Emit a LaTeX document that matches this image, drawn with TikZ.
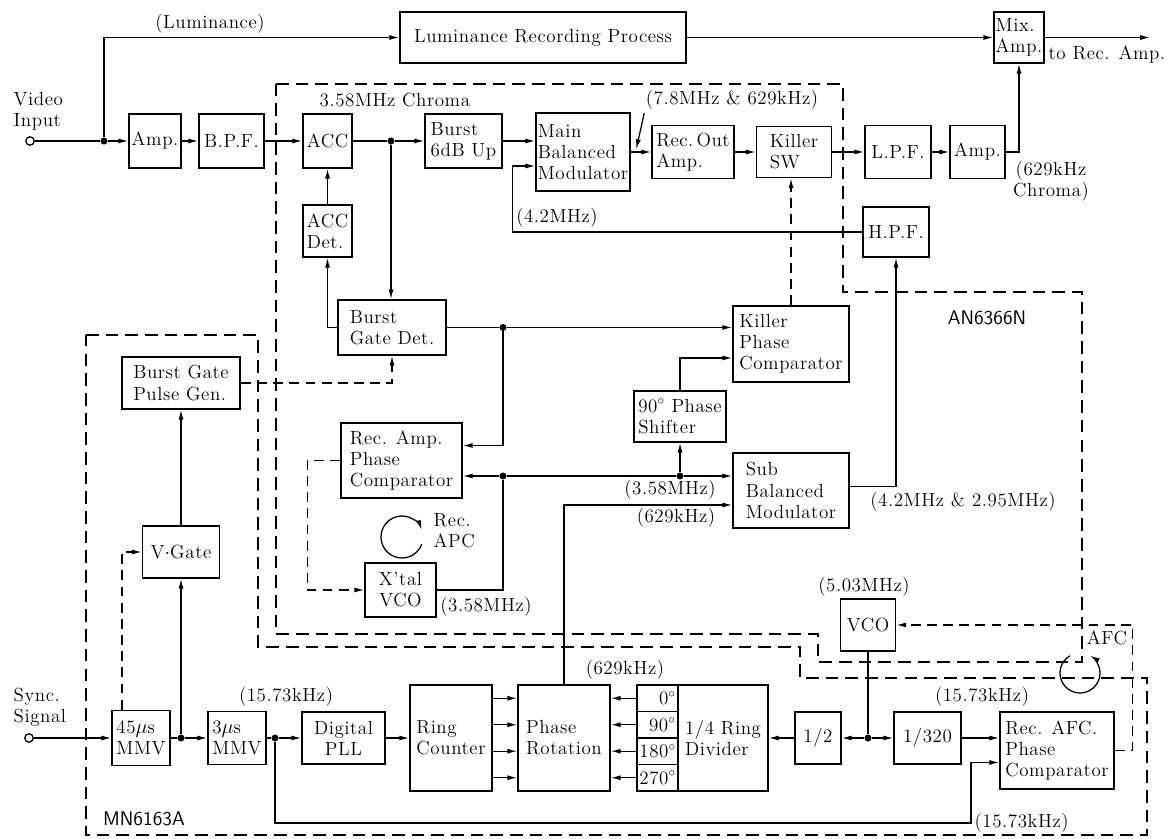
\documentclass[tikz,border=0pt]{standalone}
\usepackage{fontspec}
\setmainfont{Latin Modern Roman}[LetterSpace=3]
\usepackage{tikz}
\usetikzlibrary{calc,arrows.meta}
\tikzset{
	blk/.style={draw, line width=1.2pt, align=left, inner sep=1pt},
	sz/.style 2 args={minimum width=#1*0.025cm, minimum height=#2*0.025cm},
	dot/.style={circle, fill, inner sep=0pt, minimum size=5pt},
	term/.style={circle, draw, line width=0.9pt, fill=white, inner sep=0pt, minimum size=6pt},
	wire/.style={line width=0.9pt},
	flow/.style={line width=0.9pt, -{Latex[length=7pt,width=3.6pt]}},
	ctl/.style={line width=0.9pt, dash pattern=on 7pt off 4.5pt, -{Latex[length=7pt,width=3.6pt]}},
	chip/.style={line width=1.1pt, dash pattern=on 9pt off 5pt},
	lbl/.style={inner sep=1pt, align=left},
}

\begin{document}
\begin{tikzpicture}[x=0.025cm, y=-0.025cm, font=\fontsize{13.5}{15}\selectfont]
		%%%%% START %%%%%
		\useasboundingbox (0,0) rectangle (1167,839);
		
		% IC outlines
		\draw[chip] (276,84) -- (843,84) -- (843,292) -- (1082,292) -- (1082,662) -- (818,662) -- (818,634) -- (276,634) -- cycle;
		\draw[chip] (86,335) -- (258,335) -- (258,647) -- (800,647) -- (800,678) -- (1147,678) -- (1147,835) -- (86,835) -- cycle;
		\node[lbl, font=\fontsize{14}{16}\sffamily] (tAN) at (987,318) {AN6366N};
		\node[lbl, font=\fontsize{14}{16}\sffamily] (tMN) at (144,819) {MN6163A};
		
		% chroma path
		\node[term] (vin) at (30,141) {};
		\node[dot] (j1) at (104,141) {};
		\node[blk,sz={52}{54}] (amp1) at (155,141) {Amp.};
		\node[blk,sz={65}{54}] (bpf) at (231.5,141) {B.P.F.};
		\node[blk,sz={49}{54}] (acc) at (327.5,141) {ACC};
		\node[dot] (j2) at (391,141) {};
		\node[blk,sz={49}{52}] (accdet) at (327.5,231) {ACC\\Det.};
		\node[blk,sz={77}{54}] (burst) at (463.5,141) {Burst\\6dB Up};
		\node[blk,sz={94}{78}] (mbm) at (583,152) {Main\\Balanced\\Modulator};
		\node[blk,sz={82}{53}] (recout) at (693,152) {Rec.\,Out\\Amp.};
		\node[blk,sz={75}{51}] (killsw) at (794,152) {Killer\\SW};
		\node[blk,sz={66}{53}] (lpf) at (898,152) {L.P.F.};
		\node[blk,sz={55}{53}] (amp2) at (977.5,152) {Amp.};
		\node[blk,sz={66}{50}] (hpf) at (896,232) {H.P.F.};
		\node[blk,sz={286}{51}] (lrp) at (543,37.5) {Luminance Recording Process};
		\node[blk,sz={50}{51}] (mix) at (1019,37.5) {Mix.\\Amp.};
		\coordinate (out) at (1150,37.5);
		
		\node[blk,sz={108}{55}] (bgd) at (392,327.5) {Burst\\Gate Det.};
		\node[dot] (j3) at (503,327.5) {};
		\node[blk,sz={116}{76}] (kpc) at (791,344) {Killer\\Phase\\Comparator};
		\node[blk,sz={92}{51}] (ps90) at (680,416.5) {90$^\circ$ Phase\\Shifter};
		\node[blk,sz={121}{75}] (rapc) at (401.5,460.5) {Rec. Amp.\\Phase\\Comparator};
		\node[dot] (j4) at (503,476) {};
		\node[dot] (j5) at (680,476) {};
		\node[blk,sz={116}{75}] (sbm) at (791,490.5) {Sub\\Balanced\\Modulator};
		\node[blk,sz={71}{54},align=center] (xvco) at (400.5,590) {X'tal\\VCO};
		\coordinate (apc) at (402,537);
		
		% sync path
		\node[blk,sz={118}{52}] (bgpg) at (181,383) {Burst Gate\\Pulse Gen.};
		\node[blk,sz={77}{52}] (vgate) at (181,552) {V$\cdot$Gate};
		\node[term] (sync) at (29,738) {};
		\node[blk,sz={58}{55}] (mmv45) at (141,738) {45$\mu$s\\MMV};
		\node[dot] (j6) at (181,738) {};
		\node[blk,sz={58}{53}] (mmv3) at (237,738) {3$\mu$s\\MMV};
		\node[dot] (j7) at (275,738) {};
		\node[blk,sz={83}{52},align=center] (dpll) at (343.5,738) {Digital\\PLL};
		\node[blk,sz={82}{106}] (ring) at (451,738) {Ring\\Counter};
		\node[blk,sz={92}{106}] (phrot) at (564,738) {Phase\\Rotation};
		\foreach \a/\yy in {0/698.25, 90/724.75, 180/751.25, 270/777.75}
			\node[blk,sz={41}{26.5},text width=0.9cm,align=right,inner sep=1pt] (d\a) at (657.5,\yy) {\a$^\circ$};
		\node[blk,sz={90}{106}] (ringdiv) at (723,738) {1/4 Ring\\Divider};
		\node[blk,sz={46}{52}] (half) at (818,738) {1/2};
		\node[dot] (j8) at (868,738) {};
		\node[blk,sz={67}{52}] (div320) at (927.5,738) {1/320};
		\node[blk,sz={114}{77}] (rafc) at (1057,750.5) {Rec. AFC.\\Phase\\Comparator};
		\node[blk,sz={55}{52}] (vco) at (868,625) {VCO};
		\coordinate (k1) at (971,823);
		\coordinate (afc) at (1080,673);
		
		% connections, chroma
		\draw[wire] (vin) -- (j1);
		\draw[flow] (j1) -- (amp1);
		\draw[flow] (j1) |- (lrp);
		\draw[flow] (amp1) -- (bpf);
		\draw[flow] (bpf) -- (acc);
		\draw[wire] (acc) -- (j2);
		\draw[flow] (j2) -- (burst);
		\draw[flow] (j2) -- (j2 |- bgd.north);
		\draw[flow] (accdet) -- (acc);
		\draw[flow] (bgd.west) -| (accdet.south);
		\draw[flow] (burst.east) -- (burst.east -| mbm.west);
		\draw[flow] (mbm) -- (recout);
		\draw[flow] (recout) -- (killsw);
		\draw[flow] (killsw) -- (lpf);
		\draw[flow] (lpf) -- (amp2);
		\draw[flow] (amp2.east) -| (mix.south);
		\draw[flow] (lrp) -- (mix);
		\draw[flow] (mix.east) -- (out);
		\draw[flow] (hpf.west) -- ++(-350,0) |- ($(mbm.west)+(0,14)$);
		\draw[ctl] (kpc.north) -- (kpc.north |- killsw.south);
		
		\draw[wire] (bgd.east) -- (j3);
		\draw[flow] (j3) -- (j3 -| kpc.west);
		\draw[flow] (j3) |- ($(rapc.east)+(0,-15)$);
		\draw[flow] (ps90.north) |- ($(kpc.west)+(0,14)$);
		\draw[flow] (j4) -- (j4 -| rapc.east);
		\draw[wire] (j4) -- (j5);
		\draw[flow] (j5) -- (j5 -| sbm.west);
		\draw[flow] (j5) -- (ps90.south);
		\draw[wire] (xvco.east) -| (j4);
		\draw[flow] (phrot.north) |- ($(sbm.west)+(0,14.5)$);
		\draw[flow] ($(sbm.east)+(0,-4)$) -| (hpf.south);
		\draw[ctl] (rapc.west) -- ++(-33,0) |- (xvco.west);
		\draw[flow] ($(apc)+(20:21)$) arc[start angle=20, end angle=340, radius=21];
		
		% connections, sync
		\draw[ctl] (bgpg.east) -| (bgd.south);
		\draw[flow] (vgate) -- (bgpg);
		\draw[ctl] ($(mmv45.north)+(-19,0)$) |- (vgate.west);
		\draw[flow] (sync) -- (mmv45);
		\draw[wire] (mmv45) -- (j6);
		\draw[flow] (j6) -- (mmv3);
		\draw[flow] (j6) -- (vgate);
		\draw[wire] (mmv3) -- (j7);
		\draw[flow] (j7) -- (dpll);
		\draw[flow] (dpll) -- (ring);
		\draw[flow] (j7) |- (k1) |- ($(rafc.west)+(0,12)$);
		\foreach \a in {0,90,180,270} {
			\draw[flow] (ring.east |- d\a) -- (phrot.west |- d\a);
			\draw[flow] (d\a.west) -- (d\a.west -| phrot.east);
		}
		\draw[flow] (half) -- (ringdiv);
		\draw[wire] (vco) -- (j8);
		\draw[flow] (j8) -- (half);
		\draw[flow] (j8) -- (div320);
		\draw[flow] (div320.east) -- (div320.east -| rafc.west);
		\draw[ctl] (rafc.east) -- ++(18,0) |- (vco.east);
		\draw[flow] ($(afc)+(-120:20)$) arc[start angle=-120, end angle=-420, radius=20];
		
		% labels
		\node[lbl] (tLum) at (210,24) {(Luminance)};
		\node[lbl, anchor=west] (tVin) at (12,111) {Video\\Input};
		\node[lbl, anchor=west] (tChr) at (318,100) {3.58MHz Chroma};
		\node[lbl] (t78) at (732,100) {(7.8MHz \& 629kHz)};
		\draw[flow] ($(t78.south west)+(0,2)$) -- ++(-8,36);
		\node[lbl] (t42) at (557,218) {(4.2MHz)};
		\node[lbl, anchor=west] (tRec) at (1047,55) {to Rec. Amp.};
		\node[lbl, align=center] (tCh629) at (1051,181) {(629kHz\\Chroma)};
		\node[lbl] (t4295) at (963,502) {(4.2MHz \& 2.95MHz)};
		\node[lbl] (t358a) at (670,490) {(3.58MHz)};
		\node[lbl] (t629a) at (676,518) {(629kHz)};
		\node[lbl] (t358b) at (486,607) {(3.58MHz)};
		\node[lbl, anchor=west] (tAPC) at (432,531) {Rec.\\APC};
		\node[lbl, anchor=west] (tSync) at (12,707) {Sync.\\Signal};
		\node[lbl] (t1573a) at (286,697) {(15.73kHz)};
		\node[lbl] (t629b) at (625,670) {(629kHz)};
		\node[lbl] (t503) at (864,587) {(5.03MHz)};
		\node[lbl] (t1573b) at (982,697) {(15.73kHz)};
		\node[lbl, anchor=west] (t1573c) at (973,823) {(15.73kHz)};
		\node[lbl] (tAFC) at (1107,638) {AFC};
		
		%%%%% END %%%%%
\end{tikzpicture}
\end{document}
